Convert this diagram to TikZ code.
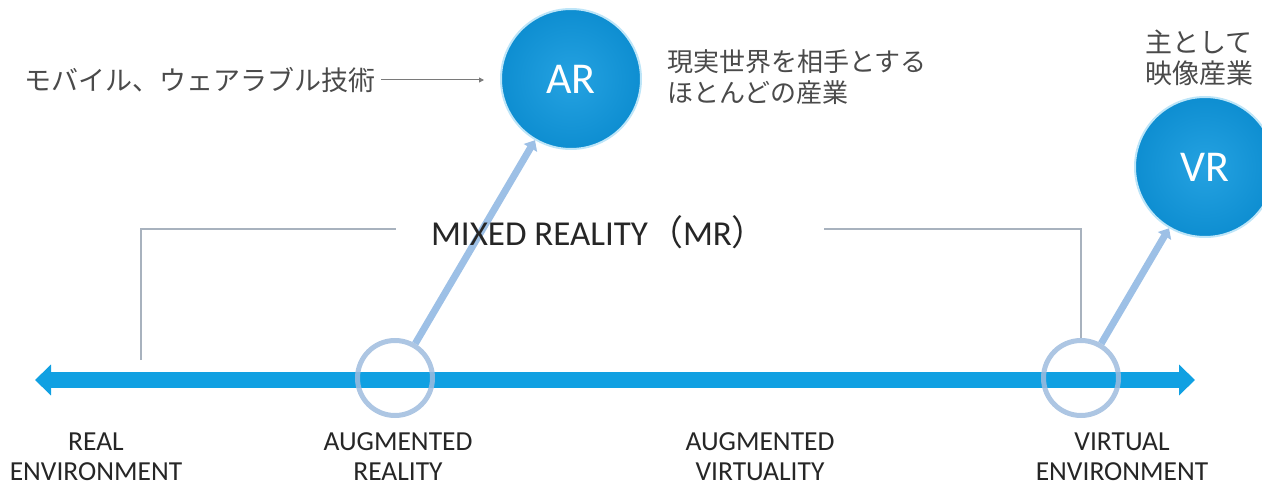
\documentclass[tikz,border=0pt]{standalone}
\usepackage{fontspec}
\setmainfont{Carlito}
\newfontfamily\jp{Noto Sans CJK JP}
\usetikzlibrary{arrows.meta}
\definecolor{axisblue}{HTML}{10A0E2}
\definecolor{ringblue}{HTML}{9FBCDE}
\definecolor{connblue}{HTML}{9DC0E6}
\definecolor{bubIn}{HTML}{25A2E1}
\definecolor{bubOut}{HTML}{0E8ED1}
\definecolor{bubHalo}{HTML}{BDE5F8}
\definecolor{bracketgray}{HTML}{A8B2BE}
\definecolor{jpgray}{HTML}{4A4A4A}
\definecolor{labelgray}{HTML}{262626}
\definecolor{pointergray}{HTML}{7A7A7A}
\tikzset{
  bubble/.style={circle, minimum size=#1, inner sep=0pt, shading=radial,
    inner color=bubIn, outer color=bubOut, draw=bubHalo, line width=2pt,
    text=white, font=\fontsize{44}{44}\selectfont},
  ringmark/.style={circle, draw=ringblue, draw opacity=0.85, line width=5pt,
    minimum size=75pt, inner sep=0pt},
  conn/.style={draw=connblue, line width=7pt, -{Triangle[length=9pt,width=15pt]}},
  axisline/.style={draw=axisblue, line width=16pt,
    {Triangle[length=16pt,width=30pt]}-{Triangle[length=16pt,width=30pt]}},
  bracket/.style={draw=bracketgray, line width=1.5pt},
  pointer/.style={draw=pointergray, line width=1pt, -{Triangle[length=5pt,width=5pt]}},
  jptext/.style={text=jpgray, inner sep=0pt, align=left},
  axislabel/.style={text=labelgray, align=center, inner sep=0pt,
    font=\fontsize{27.5}{30}\selectfont},
}
\begin{document}
\begin{tikzpicture}[x=1pt,y=-1pt]
\useasboundingbox (0,0) rectangle (1262,487);
% axis
\coordinate (L) at (35,380);
\coordinate (R) at (1195,380);
\draw[axisline] (L) -- (R);
% rings on the axis
\node[ringmark] (ARr) at (395,378) {};
\node[ringmark] (VEr) at (1081,378) {};
% bubbles
\node[bubble=140pt] (AR) at (571,79) {AR};
\node[bubble=140pt] (VR) at (1205,167) {VR};
% connectors
\draw[conn] (ARr) -- (AR);
\draw[conn] (VEr) -- (VR);
% mixed reality bracket
\node[text=labelgray, inner sep=0pt, font=\fontsize{35}{35}\selectfont] (MR) at (599,232)
  {MIXED REALITY{\jp （}MR{\jp ）}};
\coordinate (brL) at (141,360);
\coordinate (mlA) at (396,229);
\coordinate (mrA) at (824,229);
\draw[bracket] (brL) |- (mlA);
\draw[bracket] (mrA) -| (VEr.north);
% japanese texts
\node[jptext, anchor=west, font=\jp\fontsize{27}{31}\selectfont] (mob) at (24,80)
  {モバイル、ウェアラブル技術};
\coordinate (mobEnd) at (484,80);
\draw[pointer, shorten <=6pt] (mob.east) -- (mobEnd);
\node[jptext, anchor=west, font=\jp\fontsize{26}{31}\selectfont] (ARdesc) at (667,77)
  {現実世界を相手とする\\ほとんどの産業};
\node[jptext, anchor=west, font=\jp\fontsize{27}{31}\selectfont] (VRdesc) at (1145,58)
  {主として\\映像産業};
% axis labels
\node[axislabel] (lab1) at (96,457) {REAL\\ENVIRONMENT};
\node[axislabel] (lab2) at (398,457) {AUGMENTED\\REALITY};
\node[axislabel] (lab3) at (760,457) {AUGMENTED\\VIRTUALITY};
\node[axislabel] (lab4) at (1122,457) {VIRTUAL\\ENVIRONMENT};
\end{tikzpicture}
\end{document}
